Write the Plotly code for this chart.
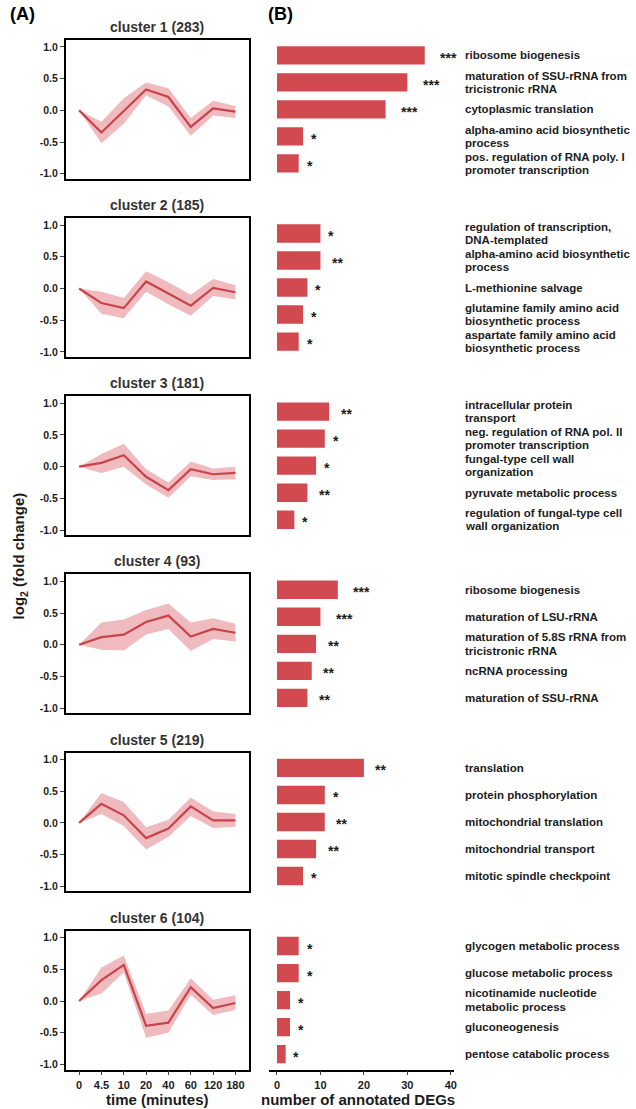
import plotly.graph_objects as go
from plotly.subplots import make_subplots

W, H = 636, 1109

time_labels = ["0", "4.5", "10", "20", "40", "60", "120", "180"]
cluster_titles = ["cluster 1 (283)", "cluster 2 (185)", "cluster 3 (181)",
                  "cluster 4 (93)", "cluster 5 (219)", "cluster 6 (104)"]

# mean log2 fold change and ribbon bounds per cluster
mean_c1 = [0, -0.35, -0.01, 0.33, 0.21, -0.26, 0.03, -0.02]
upper_c1 = [0, -0.18, 0.19, 0.44, 0.35, -0.12, 0.15, 0.07]
lower_c1 = [0, -0.52, -0.21, 0.24, 0.06, -0.40, -0.08, -0.12]

mean_c2 = [0, -0.23, -0.31, 0.11, -0.08, -0.27, 0.01, -0.06]
upper_c2 = [0, -0.05, -0.15, 0.27, 0.10, -0.10, 0.15, 0.05]
lower_c2 = [0, -0.40, -0.47, -0.05, -0.25, -0.43, -0.12, -0.17]

mean_c3 = [0, 0.06, 0.18, -0.16, -0.37, -0.04, -0.12, -0.10]
upper_c3 = [0, 0.20, 0.36, -0.04, -0.25, 0.08, -0.03, 0.00]
lower_c3 = [0, -0.10, 0.00, -0.28, -0.49, -0.15, -0.21, -0.20]

mean_c4 = [0, 0.12, 0.16, 0.36, 0.46, 0.13, 0.25, 0.19]
upper_c4 = [0, 0.35, 0.40, 0.55, 0.65, 0.35, 0.42, 0.33]
lower_c4 = [0, -0.08, -0.09, 0.16, 0.25, -0.10, 0.09, 0.05]

mean_c5 = [0, 0.30, 0.12, -0.24, -0.09, 0.26, 0.04, 0.04]
upper_c5 = [0, 0.47, 0.33, -0.07, 0.05, 0.40, 0.18, 0.14]
lower_c5 = [0, 0.14, -0.05, -0.42, -0.22, 0.11, -0.08, -0.06]

mean_c6 = [0, 0.33, 0.57, -0.39, -0.34, 0.22, -0.11, -0.03]
upper_c6 = [0, 0.53, 0.72, -0.20, -0.15, 0.36, 0.02, 0.09]
lower_c6 = [0, 0.12, 0.45, -0.58, -0.50, 0.10, -0.22, -0.14]

# GO enrichment: terms, number of annotated DEGs, significance stars
terms_c1 = ["ribosome biogenesis", "maturation of SSU-rRNA from<br>tricistronic rRNA",
            "cytoplasmic translation", "alpha-amino acid biosynthetic<br>process",
            "pos. regulation of RNA poly. I<br>promoter transcription"]
degs_c1 = [34, 30, 25, 6, 5]
stars_c1 = ["***", "***", "***", "*", "*"]

terms_c2 = ["regulation of transcription,<br>DNA-templated", "alpha-amino acid biosynthetic<br>process",
            "L-methionine salvage", "glutamine family amino acid<br>biosynthetic process",
            "aspartate family amino acid<br>biosynthetic process"]
degs_c2 = [10, 10, 7, 6, 5]
stars_c2 = ["*", "**", "*", "*", "*"]

terms_c3 = ["intracellular protein<br>transport", "neg. regulation of RNA pol. II<br>promoter transcription",
            "fungal-type cell wall<br>organization", "pyruvate metabolic process",
            "regulation of fungal-type cell<br>wall organization"]
degs_c3 = [12, 11, 9, 7, 4]
stars_c3 = ["**", "*", "*", "**", "*"]

terms_c4 = ["ribosome biogenesis", "maturation of LSU-rRNA",
            "maturation of 5.8S rRNA from<br>tricistronic rRNA", "ncRNA processing",
            "maturation of SSU-rRNA"]
degs_c4 = [14, 10, 9, 8, 7]
stars_c4 = ["***", "***", "**", "**", "**"]

terms_c5 = ["translation", "protein phosphorylation", "mitochondrial translation",
            "mitochondrial transport", "mitotic spindle checkpoint"]
degs_c5 = [20, 11, 11, 9, 6]
stars_c5 = ["**", "*", "**", "**", "*"]

terms_c6 = ["glycogen metabolic process", "glucose metabolic process",
            "nicotinamide nucleotide<br>metabolic process", "gluconeogenesis",
            "pentose catabolic process"]
degs_c6 = [5, 5, 3, 3, 2]
stars_c6 = ["*", "*", "*", "*", "*"]

means = [mean_c1, mean_c2, mean_c3, mean_c4, mean_c5, mean_c6]
uppers = [upper_c1, upper_c2, upper_c3, upper_c4, upper_c5, upper_c6]
lowers = [lower_c1, lower_c2, lower_c3, lower_c4, lower_c5, lower_c6]
terms = [terms_c1, terms_c2, terms_c3, terms_c4, terms_c5, terms_c6]
degs = [degs_c1, degs_c2, degs_c3, degs_c4, degs_c5, degs_c6]
stars = [stars_c1, stars_c2, stars_c3, stars_c4, stars_c5, stars_c6]

LINE = "#C8434A"
RIBBON = "rgba(214, 86, 92, 0.40)"
BAR = "#D04A50"
FONT = "Liberation Sans"
TXT = "#1c1c1c"
LABEL_SIZE = 11.5
LINE_GAP = 13.5   # px between the two lines of a wrapped term

fig = make_subplots(rows=6, cols=2)

# pixel layout of the panels
line_x = (66, 250)
bar_x = (270, 456)
centres = [109.5 + 178.3 * k for k in range(6)]
half = 69.5

def xdom(a, b):
    return [a / W, b / W]

def ydom(top, bottom):
    return [1 - bottom / H, 1 - top / H]

idx = list(range(len(time_labels)))
annotations = []
tick_font = dict(family=FONT, size=11, color=TXT, weight="bold")

for k in range(6):
    r = k + 1
    # ribbon
    fig.add_trace(go.Scatter(x=idx + idx[::-1], y=uppers[k] + lowers[k][::-1],
                             fill="toself", fillcolor=RIBBON, line=dict(width=0),
                             mode="lines", hoverinfo="skip", showlegend=False),
                  row=r, col=1)
    # mean line
    fig.add_trace(go.Scatter(x=idx, y=means[k], mode="lines",
                             line=dict(color=LINE, width=2.2), showlegend=False),
                  row=r, col=1)
    # bars
    pos = list(range(len(degs[k])))
    fig.add_trace(go.Bar(x=degs[k], y=pos, orientation="h", width=0.68,
                         marker=dict(color=BAR, line=dict(width=0)), showlegend=False),
                  row=r, col=2)

    top, bottom = centres[k] - half, centres[k] + half
    li = 2 * k + 1
    bi = 2 * k + 2
    last = (k == 5)

    xline = dict(domain=xdom(*line_x), range=[-0.6, 7.6],
                 showline=True, mirror=True, linecolor="black", linewidth=1.6,
                 showgrid=False, zeroline=False,
                 tickmode="array", tickvals=idx, ticktext=time_labels,
                 ticks="outside" if last else "", ticklen=4, tickwidth=1.4,
                 showticklabels=last, tickfont=tick_font)
    xbar = dict(domain=xdom(*bar_x), range=[-1.9, 40.7],
                showline=last, linecolor="black", linewidth=1.6,
                showgrid=False, zeroline=False,
                tickmode="array", tickvals=[0, 10, 20, 30, 40],
                ticks="outside" if last else "", ticklen=4, tickwidth=1.4,
                showticklabels=last, tickfont=tick_font)
    fig.update_layout({
        f"xaxis{li}": xline,
        f"yaxis{li}": dict(domain=ydom(top, bottom), range=[-1.08, 1.11],
                           showline=True, mirror=True, linecolor="black", linewidth=1.6,
                           showgrid=False, zeroline=False,
                           tickmode="array", tickvals=[1, 0.5, 0, -0.5, -1],
                           ticktext=["1.0", "0.5", "0.0", "-0.5", "-1.0"],
                           ticks="outside", ticklen=4, tickwidth=1.4,
                           tickfont=dict(family=FONT, size=10.5, color=TXT, weight="bold")),
        f"xaxis{bi}": xbar,
        f"yaxis{bi}": dict(domain=ydom(top, bottom), range=[4.57, -0.57],
                           showline=False, showgrid=False, zeroline=False,
                           showticklabels=False, ticks=""),
    })

    # panel title
    annotations.append(dict(text=f"<b>{cluster_titles[k]}</b>", xref="paper", yref="paper",
                            x=(line_x[0] + line_x[1]) / 2 / W, y=1 - (top - 13) / H,
                            xanchor="center", yanchor="middle", showarrow=False,
                            font=dict(family=FONT, size=14, color="#333333")))

    xa = f"x{bi}"
    ya = f"y{bi}"
    for j, (v, s, t) in enumerate(zip(degs[k], stars[k], terms[k])):
        # significance stars after the bar
        annotations.append(dict(text=f"<b>{s}</b>", xref=xa, yref=ya, x=v, y=j,
                                xanchor="left", yanchor="middle", showarrow=False,
                                xshift=2 + 3.8 * len(s), yshift=-2.5,
                                font=dict(family=FONT, size=14, color=TXT)))
        # GO term label, one annotation per text line for tight line spacing
        parts = t.split("<br>")
        n = len(parts)
        for p, part in enumerate(parts):
            offset = (p - (n - 1) / 2) * LINE_GAP
            annotations.append(dict(text=f"<b>{part}</b>", xref="paper", yref=ya,
                                    x=465 / W, y=j, yshift=-offset,
                                    xanchor="left", yanchor="middle", align="left",
                                    showarrow=False,
                                    font=dict(family=FONT, size=LABEL_SIZE, color=TXT)))

# panel letters and axis titles
annotations += [
    dict(text="<b>(A)</b>", xref="paper", yref="paper", x=8 / W, y=1 - 14 / H,
         xanchor="left", yanchor="middle", showarrow=False,
         font=dict(family=FONT, size=18, color="black")),
    dict(text="<b>(B)</b>", xref="paper", yref="paper", x=267 / W, y=1 - 14 / H,
         xanchor="left", yanchor="middle", showarrow=False,
         font=dict(family=FONT, size=18, color="black")),
    dict(text="<b>log<sub>2</sub> (fold change)</b>", xref="paper", yref="paper",
         x=20 / W, y=1 - 556 / H, textangle=-90, xanchor="center", yanchor="middle",
         showarrow=False, font=dict(family=FONT, size=15, color=TXT)),
    dict(text="<b>time (minutes)</b>", xref="paper", yref="paper",
         x=(line_x[0] + line_x[1]) / 2 / W, y=1 - 1100 / H,
         xanchor="center", yanchor="middle", showarrow=False,
         font=dict(family=FONT, size=15, color=TXT)),
    dict(text="<b>number of annotated DEGs</b>", xref="paper", yref="paper",
         x=360 / W, y=1 - 1100 / H, xanchor="center", yanchor="middle", showarrow=False,
         font=dict(family=FONT, size=15, color=TXT)),
]

fig.update_layout(width=W, height=H, margin=dict(l=0, r=0, t=0, b=0),
                  paper_bgcolor="white", plot_bgcolor="white",
                  showlegend=False, annotations=annotations,
                  font=dict(family=FONT, color=TXT))

fig.write_html("out.html")
